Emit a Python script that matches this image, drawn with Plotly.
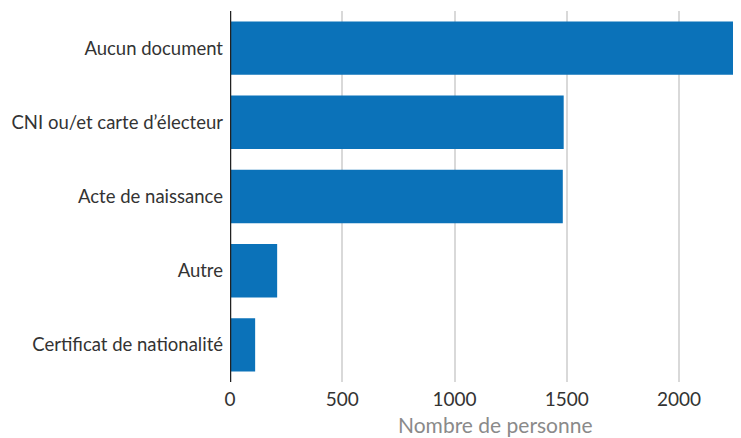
import plotly.graph_objects as go

categories = ["Aucun document", "CNI ou/et carte d’électeur", "Acte de naissance", "Autre", "Certificat de nationalité"]
values = [2300, 1486, 1482, 210, 112]
x_ticks = [0, 500, 1000, 1500, 2000]
x_title = "Nombre de personne"

fig = go.Figure(go.Bar(
    x=values, y=categories, orientation="h",
    marker=dict(color="#0b72b9", line=dict(width=0)),
    width=0.72,
))
fig.update_layout(
    width=733, height=430,
    margin=dict(l=222, r=8, t=3, b=56),
    paper_bgcolor="white", plot_bgcolor="white",
    font=dict(family="Lato", color="#333333"),
    showlegend=False,
    bargap=0.28,
)
fig.update_xaxes(
    range=[0, 2240], tickvals=x_ticks, ticktext=[str(t) for t in x_ticks],
    showgrid=True, gridcolor="#d9d9d9", gridwidth=1.5,
    zeroline=False, showline=False, automargin=False,
    tickfont=dict(size=19, color="#333333"),
    ticks="", ticklabelstandoff=4,
)
fig.update_yaxes(
    categoryorder="array", categoryarray=categories[::-1],
    showgrid=False, zeroline=False, automargin=False,
    showline=False,
    tickfont=dict(size=18.5, color="#333333"),
    ticks="", ticklabelstandoff=6,
)
fig.add_annotation(text=x_title, xref="paper", yref="paper", x=0.527, y=0,
                   xanchor="center", yanchor="middle", yshift=-42, showarrow=False,
                   font=dict(size=21, color="#8a8a8a"))
fig.add_shape(type="line", xref="x", yref="paper", x0=0, x1=0, y0=0, y1=1,
              line=dict(color="#222222", width=2.5))
fig.write_html("out.html")
